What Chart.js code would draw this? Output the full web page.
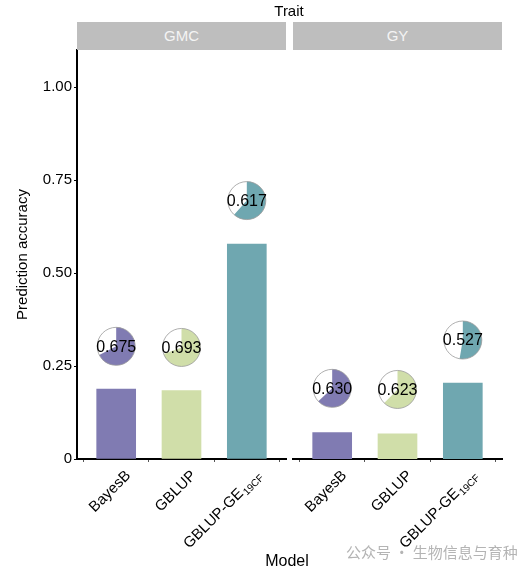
<!DOCTYPE html>
<html>
<head>
<meta charset="utf-8">
<script src="https://cdn.jsdelivr.net/npm/chart.js@4.4.1/dist/chart.umd.min.js"></script>
<style>
  html, body { margin: 0; padding: 0; background: #fff; }
  #wrap { position: relative; width: 530px; height: 575px; overflow: hidden;
          font-family: 'Liberation Sans', Arial, sans-serif; font-weight: normal; }
  canvas { position: absolute; left: 0; top: 0; }
  .strip { position: absolute; top: 22px; height: 28px; background: #BEBEBE; color: #F4F4F4;
           font-size: 15px; line-height: 28px; text-align: center; }
  .lbl { position: absolute; color: #000; white-space: nowrap; transform: translate(-50%, -50%); }
  #mark { position: absolute; left: 346px; top: 541px; color: #B4B4B4; font-size: 15px;
          font-family: 'Noto Sans CJK SC', sans-serif; white-space: nowrap; }
</style>
</head>
<body>
<div id="wrap">
  <canvas id="leftChart" width="530" height="575"></canvas>
  <canvas id="rightChart" width="530" height="575"></canvas>
  <div class="strip" style="left:77px;width:209px;">GMC</div>
  <div class="strip" style="left:293px;width:209px;">GY</div>
  <div class="lbl" style="left:289px;top:10px;font-size:15px;">Trait</div>
  <div class="lbl" style="left:287px;top:561px;font-size:16px;">Model</div>
  <div id="mark">公众号 · 生物信息与育种</div>
</div>
<script>
// data
const traits = ['GMC', 'GY'];
const models = ['BayesB', 'GBLUP', 'GBLUP-GE'];
const modelSubs = ['', '', '19CF'];
const modelPos = [1, 2, 3];
const gmcBars = [0.188, 0.184, 0.578];
const gyBars = [0.071, 0.068, 0.204];
const gmcPieAcc = [0.675, 0.693, 0.617];
const gyPieAcc = [0.630, 0.623, 0.527];
const gmcPieY = [0.303, 0.300, 0.695];
const gyPieY = [0.190, 0.187, 0.320];
const yTicks = [0, 0.25, 0.5, 0.75, 1.0];
const barColors = ['#807BB2', '#D0DEA9', '#6FA7B0'];

const FONT = "'Liberation Sans', Arial, sans-serif";

// pies with the accuracy value on top of each bar
const piePlugin = {
  id: 'pies',
  afterDatasetsDraw(chart, args, opts) {
    const ctx = chart.ctx;
    const xs = chart.scales.x, ys = chart.scales.y;
    const r = 19;
    opts.acc.forEach((a, i) => {
      const cx = xs.getPixelForValue(modelPos[i]);
      const cy = ys.getPixelForValue(opts.pos[i]);
      ctx.save();
      ctx.beginPath();
      ctx.arc(cx, cy, r, 0, Math.PI * 2);
      ctx.fillStyle = '#fff';
      ctx.fill();
      ctx.beginPath();
      ctx.moveTo(cx, cy);
      ctx.arc(cx, cy, r, -Math.PI / 2, -Math.PI / 2 + Math.PI * 2 * a);
      ctx.closePath();
      ctx.fillStyle = barColors[i];
      ctx.fill();
      ctx.beginPath();
      ctx.arc(cx, cy, r, 0, Math.PI * 2);
      ctx.strokeStyle = '#9a9a9a';
      ctx.lineWidth = 0.8;
      ctx.stroke();
      ctx.fillStyle = '#000';
      ctx.font = '16px ' + FONT;
      ctx.textAlign = 'center';
      ctx.textBaseline = 'middle';
      ctx.fillText(a.toFixed(3), cx, cy + 1);
      ctx.restore();
    });
  }
};

// rotated x labels (needs a subscript for GBLUP-GE19CF)
const xLabelPlugin = {
  id: 'xLabels',
  afterDraw(chart) {
    const ctx = chart.ctx;
    const xs = chart.scales.x;
    const top = chart.chartArea.bottom + 9;
    models.forEach((m, i) => {
      const x = xs.getPixelForValue(modelPos[i]) + 7;
      ctx.save();
      ctx.translate(x, top);
      ctx.rotate(-Math.PI / 4);
      ctx.fillStyle = '#000';
      ctx.textAlign = 'right';
      ctx.textBaseline = 'top';
      let off = 0;
      if (modelSubs[i]) {
        ctx.font = '10px ' + FONT;
        off = ctx.measureText(modelSubs[i]).width + 1;
        ctx.fillText(modelSubs[i], 0, 7);
      }
      ctx.font = '15px ' + FONT;
      ctx.fillText(m, -off, 0);
      ctx.restore();
    });
  }
};

function makeChart(id, bars, pieAcc, pieY, withY) {
  return new Chart(document.getElementById(id), {
    type: 'bar',
    data: {
      datasets: [{
        data: bars.map((v, i) => ({ x: modelPos[i], y: v })),
        backgroundColor: barColors,
        borderWidth: 0,
        barThickness: 39
      }]
    },
    options: {
      responsive: false,
      animation: false,
      layout: {
        padding: withY
          ? { left: 0, right: 530 - 286, top: 50, bottom: 116 }
          : { left: 293, right: 530 - 502, top: 50, bottom: 116 }
      },
      plugins: {
        legend: { display: false },
        tooltip: { enabled: false },
        pies: { acc: pieAcc, pos: pieY }
      },
      scales: {
        x: {
          type: 'linear',
          offset: false,
          min: 0.4,
          max: 3.6,
          afterBuildTicks: s => { s.ticks = modelPos.map(v => ({ value: v })); },
          afterFit: s => { s.height = 0; },
          ticks: { display: false },
          grid: { drawOnChartArea: false, drawTicks: true, tickLength: 3, color: '#555', lineWidth: 1 },
          border: { display: true, color: '#000', width: 2 }
        },
        y: {
          display: withY,
          min: 0,
          max: 1.1,
          afterBuildTicks: s => { s.ticks = yTicks.map(v => ({ value: v })); },
          afterFit: s => { s.width = withY ? 77 : 0; },
          title: {
            display: true,
            text: 'Prediction accuracy',
            color: '#000',
            font: { family: FONT, size: 15 },
            padding: { top: 14, bottom: 0 }
          },
          ticks: {
            color: '#000',
            padding: 2,
            font: { family: FONT, size: 15 },
            callback: v => v === 0 ? '0' : v.toFixed(2)
          },
          grid: { drawOnChartArea: false, drawTicks: true, tickLength: 3, color: '#000', lineWidth: 1 },
          border: { display: true, color: '#000', width: 2 }
        }
      }
    },
    plugins: [piePlugin, xLabelPlugin]
  });
}

makeChart('leftChart', gmcBars, gmcPieAcc, gmcPieY, true);
makeChart('rightChart', gyBars, gyPieAcc, gyPieY, false);
</script>
</body>
</html>
